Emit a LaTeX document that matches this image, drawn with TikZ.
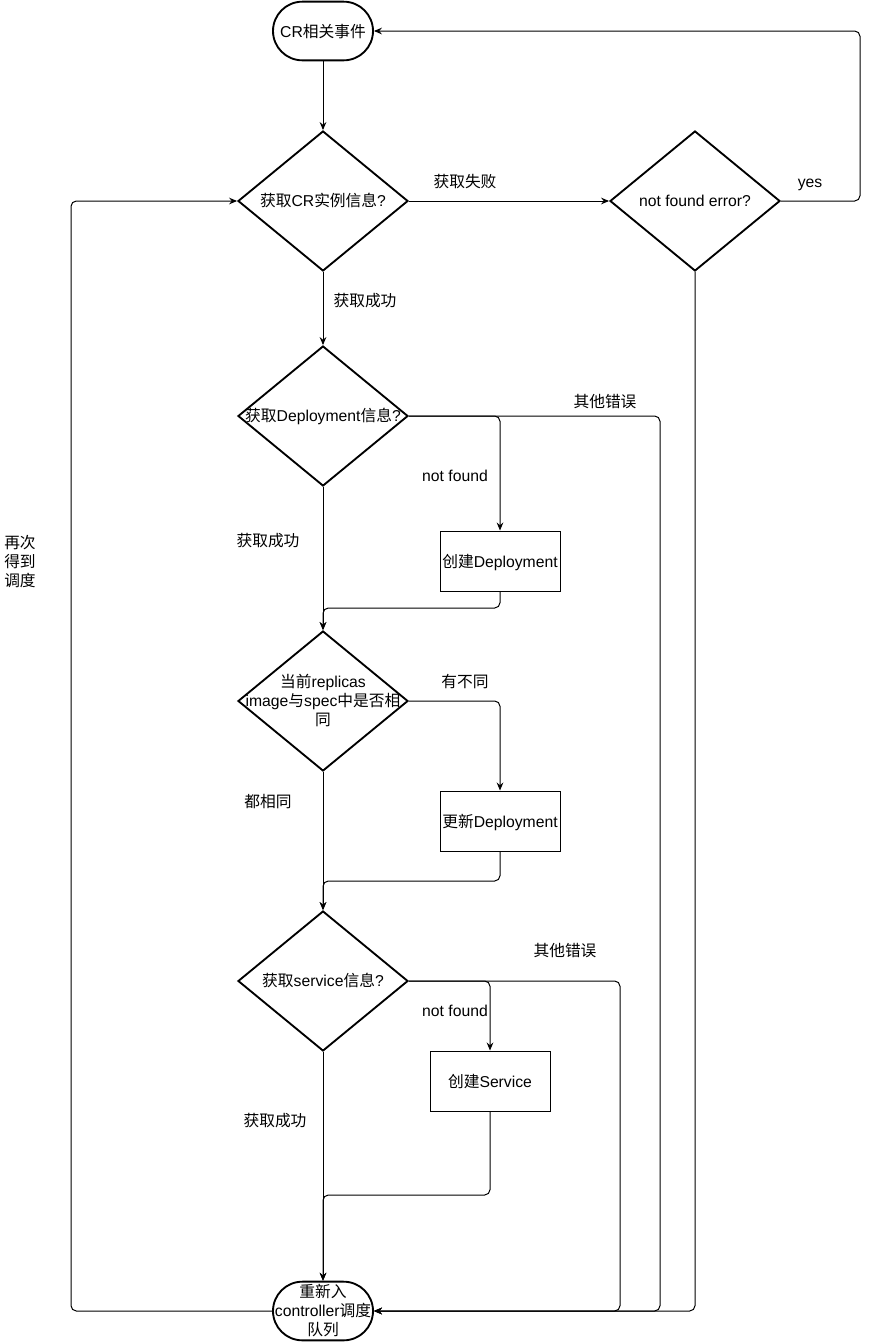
\documentclass[tikz,border=0pt]{standalone}
\usepackage{fontspec}
\setmainfont{Liberation Sans}
\newfontfamily\cjk{Noto Sans CJK SC}
\usepackage{tikz}
\usetikzlibrary{shapes.geometric,arrows.meta}
\newcommand{\zwtext}[1]{\makebox[0pt]{\raisebox{-1.5pt}[\height][\depth]{\begin{tabular}{@{}c@{}}#1\end{tabular}}}}

\begin{document}
\begin{tikzpicture}[x=0.75pt,y=-0.75pt,
    font=\fontsize{11.8}{14.25}\selectfont,
    term/.style={draw,line width=1.4pt,rectangle,rounded corners=22pt,minimum width=75pt,minimum height=44pt,inner sep=0pt},
    decide/.style={draw,line width=1.4pt,diamond,minimum width=127.5pt,minimum height=105pt,inner sep=0pt},
    proc/.style={draw,line width=0.75pt,rectangle,minimum width=90pt,minimum height=45pt,inner sep=0pt,text height=10.5pt,text depth=1pt},
    flow/.style={line width=0.75pt,rounded corners=4pt,-{Stealth[length=6pt,width=5pt,inset=2pt]}},
    lbl/.style={inner sep=0pt,text height=10.2pt,text depth=1.2pt}]
    \useasboundingbox (0,0) rectangle (870,1343);

    % steps
    \node[term,text height=10.5pt,text depth=1pt] (start) at (323,31) {CR{\cjk 相关事件}};
    \node[decide] (getcr) at (323,201) {\zwtext{{\cjk 获取}CR{\cjk 实例信息}?}};
    \node[decide] (nferr) at (695,201) {\zwtext{not found error?}};
    \node[decide] (getdep) at (323,416) {\zwtext{{\cjk 获取}Deployment{\cjk 信息}?}};
    \node[proc] (mkdep) at (500,561) {{\cjk 创建}Deployment};
    \node[decide] (cmpdep) at (323,701) {\zwtext{{\cjk 当前}replicas\\image{\cjk 与}spec{\cjk 中是否相}\\{\cjk 同}}};
    \node[proc] (updep) at (500,821) {{\cjk 更新}Deployment};
    \node[decide] (getsvc) at (323,981) {\zwtext{{\cjk 获取}service{\cjk 信息}?}};
    \node[proc] (mksvc) at (490,1081) {{\cjk 创建}Service};
    \node[term] (requeue) at (323,1311) {\zwtext{{\cjk 重新入}\\controller{\cjk 调度}\\{\cjk 队列}}};

    % bends
    \coordinate (yesup) at (860,100);
    \coordinate (loopl) at (71,700);
    \coordinate (errdep) at (660,800);
    \coordinate (errsvc) at (620,1100);
    \coordinate (join1) at (323,608);
    \coordinate (join2) at (323,881);
    \coordinate (join3) at (323,1195);

    \draw[flow] (start) -- (getcr);
    \draw[flow] (getcr) -- (nferr);
    \draw[flow] (nferr.east) -| (yesup) |- (start.east);
    \draw[flow] (nferr.south) |- (requeue.east);
    \draw[flow] (getcr) -- (getdep);
    \draw[flow] (getdep.east) -| (mkdep.north);
    \draw[flow] (getdep.east) -| (errdep) |- (requeue.east);
    \draw[flow] (getdep) -- (cmpdep);
    \draw[flow] (mkdep.south) |- (join1) -- (cmpdep.north);
    \draw[flow] (cmpdep.east) -| (updep.north);
    \draw[flow] (cmpdep) -- (getsvc);
    \draw[flow] (updep.south) |- (join2) -- (getsvc.north);
    \draw[flow] (getsvc.east) -| (mksvc.north);
    \draw[flow] (getsvc.east) -| (errsvc) |- (requeue.east);
    \draw[flow] (getsvc) -- (requeue);
    \draw[flow] (mksvc.south) |- (join3) -- (requeue.north);
    \draw[flow] (requeue.west) -| (loopl) |- (getcr.west);

    % labels
    \node[lbl] (tfail) at (465,181) {{\cjk 获取失败}};
    \node[lbl] (tyes) at (810,181) {yes};
    \node[lbl] (tok1) at (365,300) {{\cjk 获取成功}};
    \node[lbl] (terr1) at (605,401) {{\cjk 其他错误}};
    \node[lbl] (tnf1) at (455,475) {not found};
    \node[lbl] (tok2) at (268,540) {{\cjk 获取成功}};
    \node[lbl] (tdiff) at (465,681) {{\cjk 有不同}};
    \node[lbl] (tsame) at (268,801) {{\cjk 都相同}};
    \node[lbl] (terr2) at (565,950) {{\cjk 其他错误}};
    \node[lbl] (tnf2) at (455,1010) {not found};
    \node[lbl] (tok3) at (275,1120) {{\cjk 获取成功}};
    \node[inner sep=0pt,align=center,yshift=-1pt] (tagain) at (20,560) {{\cjk 再次}\\{\cjk 得到}\\{\cjk 调度}};
\end{tikzpicture}
\end{document}
